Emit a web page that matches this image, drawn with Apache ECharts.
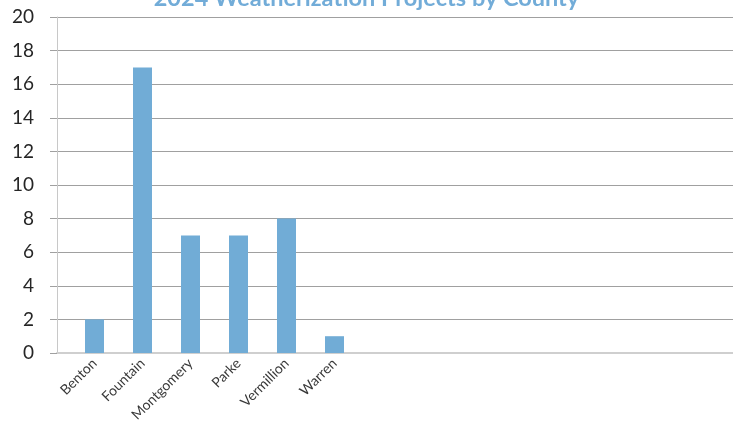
<!DOCTYPE html>
<html>
<head>
<meta charset="utf-8">
<script src="https://cdn.jsdelivr.net/npm/echarts@6/dist/echarts.min.js"></script>
<style>
html,body{margin:0;padding:0;background:#fff;}
#chart{width:733px;height:421px;}
</style>
</head>
<body>
<div id="chart"></div>
<script>
var titleText = '2024 Weatherization Projects by County';
var counties = ['Benton', 'Fountain', 'Montgomery', 'Parke', 'Vermillion', 'Warren'];
var projects = [2, 17, 7, 7, 8, 1];
var emptySlots = ['', '', '', '', '', '', '', ''];

var chart = echarts.init(document.getElementById('chart'));
chart.setOption({
  animation: false,
  backgroundColor: '#ffffff',
  title: {
    text: titleText,
    left: 'center',
    top: -19,
    textStyle: { fontFamily: 'Lato', fontSize: 23.5, fontWeight: 'bold', color: '#72acd8' }
  },
  grid: [
    { left: 57, right: 0, top: 17, bottom: 68, outerBoundsMode: 'none' },
    { left: 70.5, right: -9.5, top: 17, bottom: 68, outerBoundsMode: 'none' }
  ],
  xAxis: [
    {
      gridIndex: 0, type: 'category', data: [''],
      axisLine: { show: true, lineStyle: { color: '#cfcfcf', width: 2 } },
      axisTick: { show: false }, axisLabel: { show: false }, splitLine: { show: false }
    },
    {
      gridIndex: 1, type: 'category', data: counties.concat(emptySlots),
      axisLine: { show: false }, axisTick: { show: false },
      axisLabel: { interval: 0, rotate: 45, fontFamily: 'Lato', fontSize: 14, color: '#383838', margin: 8 }
    }
  ],
  yAxis: [
    {
      gridIndex: 0, type: 'value', min: 0, max: 20, interval: 2,
      axisLine: { show: true, lineStyle: { color: '#c8c8c8', width: 1 } },
      axisTick: { show: true, length: 7, lineStyle: { color: '#a0a0a0' } },
      axisLabel: { fontFamily: 'Lato', fontSize: 19, color: '#262626', margin: 23 },
      splitLine: { show: true, lineStyle: { color: '#a0a0a0', width: 1 } }
    },
    {
      gridIndex: 1, type: 'value', min: 0, max: 20, show: false
    }
  ],
  series: [{
    type: 'bar',
    xAxisIndex: 1, yAxisIndex: 1,
    data: projects,
    barWidth: 19,
    itemStyle: { color: '#71acd6' }
  }]
});
</script>
</body>
</html>
